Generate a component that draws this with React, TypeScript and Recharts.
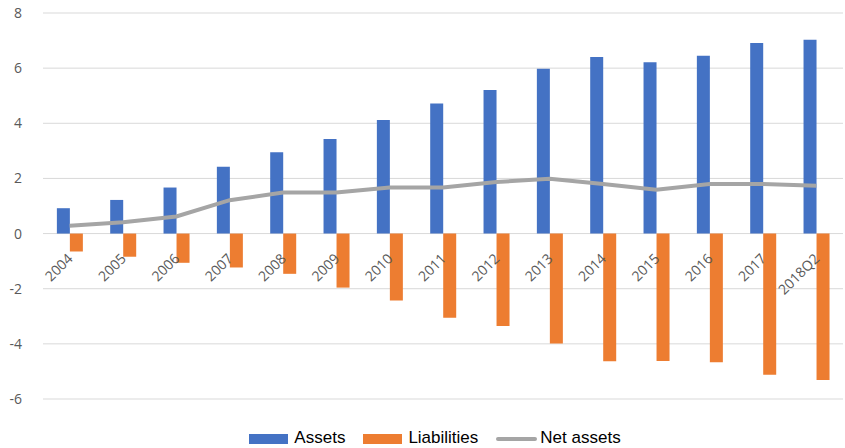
import React from "react";
import {
  ComposedChart,
  Bar,
  Line,
  XAxis,
  YAxis,
  CartesianGrid,
  Legend,
} from "recharts";

// data
const years = [
  "2004", "2005", "2006", "2007", "2008", "2009", "2010", "2011",
  "2012", "2013", "2014", "2015", "2016", "2017", "2018Q2",
];
const assets = [0.92, 1.22, 1.67, 2.42, 2.95, 3.43, 4.12, 4.72, 5.21, 5.98, 6.4, 6.21, 6.45, 6.91, 7.03];
const liabilities = [-0.65, -0.84, -1.06, -1.23, -1.46, -1.96, -2.43, -3.05, -3.35, -3.99, -4.63, -4.62, -4.67, -5.12, -5.31];
const netAssets = [0.28, 0.41, 0.62, 1.21, 1.49, 1.49, 1.67, 1.67, 1.87, 1.99, 1.8, 1.59, 1.8, 1.8, 1.73];
const yTicks = [-6, -4, -2, 0, 2, 4, 6, 8];

const data = years.map((year, i) => ({
  year,
  assets: assets[i],
  liabilities: liabilities[i],
  net: netAssets[i],
}));

const WIDTH = 845;
const HEIGHT = 448;
const MARGIN = { top: 13, right: 2, bottom: 0, left: 0 };
const LEGEND_H = 20;
const XAXIS_H = 29;
const Y_MIN = -6;
const Y_MAX = 8;

// y pixel of the zero line, where the category labels hang
const plotH = HEIGHT - MARGIN.top - MARGIN.bottom - LEGEND_H - XAXIS_H;
const ZERO_Y = MARGIN.top + (plotH * Y_MAX) / (Y_MAX - Y_MIN);

const AXIS_FONT = "'Open Sans', sans-serif";

const YearTick = (props: any) => {
  const { x, payload } = props;
  return (
    <text
      transform={`translate(${x + 4},${ZERO_Y + 26}) rotate(-45)`}
      textAnchor="end"
      fill="#595959"
      fontSize={14}
      fontFamily={AXIS_FONT}
    >
      {payload.value}
    </text>
  );
};

const legendItems = [
  { label: "Assets", color: "#4472c4", kind: "bar" },
  { label: "Liabilities", color: "#ed7d31", kind: "bar" },
  { label: "Net assets", color: "#a5a5a5", kind: "line" },
];

const ChartLegend = () => (
  <div
    style={{
      display: "flex",
      justifyContent: "center",
      alignItems: "center",
      height: LEGEND_H,
      paddingLeft: 27,
      fontFamily: "'Liberation Sans', Arial, sans-serif",
      fontSize: 17,
      color: "#000",
    }}
  >
    {legendItems.map((item, i) => (
      <div
        key={item.label}
        style={{ display: "flex", alignItems: "center", marginLeft: i === 0 ? 0 : 18 }}
      >
        {item.kind === "bar" ? (
          <span style={{ width: 39, height: 10, background: item.color, marginRight: 6, marginTop: 1 }} />
        ) : (
          <span
            style={{ width: 41, height: 4, borderRadius: 2, background: item.color, marginRight: 3, marginTop: 1 }}
          />
        )}
        <span style={{ lineHeight: `${LEGEND_H}px` }}>{item.label}</span>
      </div>
    ))}
  </div>
);

export default function App() {
  return (
    <div style={{ position: "absolute", left: 0, top: 0, width: WIDTH, height: HEIGHT }}>
      <ComposedChart
        width={WIDTH}
        height={HEIGHT}
        data={data}
        margin={MARGIN}
        barGap={0}
        barCategoryGap="26%"
      >
        <CartesianGrid vertical={false} stroke="#d9d9d9" strokeWidth={1} />
        <XAxis
          dataKey="year"
          height={XAXIS_H}
          axisLine={false}
          tickLine={false}
          interval={0}
          tick={<YearTick />}
        />
        <YAxis
          domain={[Y_MIN, Y_MAX]}
          ticks={yTicks}
          width={43}
          axisLine={false}
          tickLine={false}
          tickSize={0}
          tickMargin={21}
          tick={{ fill: "#595959", fontSize: 14, fontFamily: AXIS_FONT }}
        />
        <Legend verticalAlign="bottom" height={LEGEND_H} content={<ChartLegend />} />
        <Bar dataKey="assets" name="Assets" fill="#4472c4" isAnimationActive={false} />
        <Bar dataKey="liabilities" name="Liabilities" fill="#ed7d31" isAnimationActive={false} />
        <Line
          dataKey="net"
          name="Net assets"
          type="linear"
          stroke="#a5a5a5"
          strokeWidth={4}
          dot={false}
          activeDot={false}
          isAnimationActive={false}
        />
      </ComposedChart>
    </div>
  );
}
